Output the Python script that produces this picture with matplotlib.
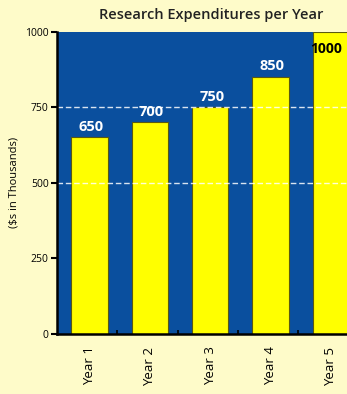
import matplotlib
matplotlib.use("Agg")
import matplotlib.pyplot as plt
from matplotlib.ticker import FixedLocator

plt.rcParams['font.family'] = ['Open Sans', 'DejaVu Sans']

years = ["Year 1", "Year 2", "Year 3", "Year 4", "Year 5"]
spending = [650, 700, 750, 850, 1000]
y_ticks = [0, 250, 500, 750, 1000]
grid_levels = [500, 750]

page_bg = "#fefbc9"
panel_bg = "#0a4f9e"
bar_yellow = "#ffff00"

fig = plt.figure(figsize=(3.47, 3.94), dpi=100, facecolor=page_bg)
ax = fig.add_axes([0.164, 0.152, 0.842, 0.768])
ax.set_facecolor(panel_bg)

pos = list(range(len(years)))
ax.bar(pos, spending, width=0.6, color=bar_yellow, edgecolor="#5a5a10",
       linewidth=0.8, zorder=2)

for g in grid_levels:
    ax.axhline(g, color="white", linestyle=(0, (4, 2)), linewidth=1.0,
               alpha=0.85, zorder=3)

for i, v in enumerate(spending):
    if v >= 1000:
        # top bar fills the panel, so its label sits inside in black
        ax.text(i - 0.08, v - 80, str(v), ha="center", va="bottom",
                color="black", fontsize=10, fontweight="bold", zorder=4)
    else:
        ax.text(i + 0.03, v + 12, str(v), ha="center", va="bottom",
                color="white", fontsize=10.5, fontweight="bold", zorder=4)

ax.set_xlim(-0.54, 4.3)
ax.set_ylim(0, 1000)
ax.set_yticks(y_ticks)
ax.set_yticklabels([str(t) for t in y_ticks], fontsize=7.5)
ax.set_xticks(pos)
ax.set_xticklabels(years, rotation=90, fontsize=9.5)
ax.tick_params(axis="x", which="major", length=0, pad=9)
ax.xaxis.set_minor_locator(FixedLocator([p + 0.46 for p in pos[:-1]]))
ax.tick_params(axis="x", which="minor", direction="in", length=3,
               width=1.2, color="black")
ax.tick_params(axis="y", direction="out", length=4, width=1.5, pad=2)

for side in ["top", "right"]:
    ax.spines[side].set_visible(False)
for side in ["left", "bottom"]:
    ax.spines[side].set_linewidth(1.8)
    ax.spines[side].set_zorder(5)

ax.set_ylabel("($s in Thousands)", fontsize=8, labelpad=4)
fig.text(0.61, 0.962, "Research Expenditures per Year", ha="center",
         va="center", fontsize=10.5, fontweight="semibold", color="#222222")

fig.savefig("out.png", dpi=100, facecolor=page_bg)
